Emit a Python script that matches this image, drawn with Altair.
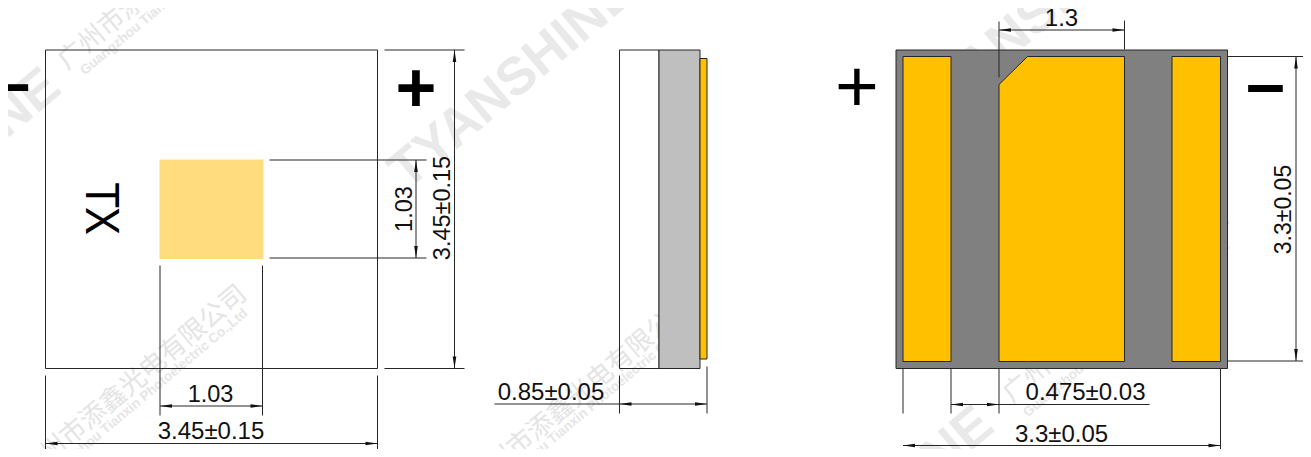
import altair as alt
import pandas as pd

# drawing geometry in picture pixels
rect_x1 = [896.5, 903.5, 1172.5, 659.5, 700.5]
rect_x2 = [1228, 951.5, 1221, 700.5, 707.5]
rect_y1 = [50.5, 57, 57, 50.5, 59]
rect_y2 = [369, 362, 362, 369, 359.5]
rect_fill = ["#808080", "#FFC000", "#FFC000", "#BFBFBF", "#FFC000"]

open_x1 = [46, 620]
open_x2 = [378, 659.5]
open_y1 = [50.5, 50.5]
open_y2 = [369, 369]

chip_x = [160]
chip_x2 = [264]
chip_y = [160]
chip_y2 = [259.5]

pad_x = [999.5, 1028, 1125]
pad_top = [85, 57, 57]
pad_bottom = [362, 362, 362]

v_x = [160.5, 263, 46, 378, 416.5, 455, 620, 707.5, 999.5, 1125, 903.5, 951.5, 999.5, 1221, 1296.5]
v_y1 = [266, 266, 376, 376, 160.5, 50.5, 376, 367, 22, 21, 369, 369, 369, 369, 57]
v_y2 = [416, 416, 453, 453, 258.5, 369, 414, 414, 78, 50, 414, 414, 414, 455, 361.5]

h_y = [160.5, 258.5, 50.5, 369, 406.5, 444, 404.5, 30.5, 405, 446, 57, 361.5]
h_x1 = [270, 270, 385, 385, 160.5, 46, 495, 999.5, 951.5, 903.5, 1228, 1228]
h_x2 = [427, 427, 465, 465, 263, 378, 707.5, 1125, 1150, 1221, 1306, 1306]

left_tip_x = [160.5, 46, 620, 999.5, 951.5, 903.5]
left_tip_y = [406.5, 444, 404.5, 30.5, 405, 446]
right_tip_x = [263, 378, 707.5, 1125, 999.5, 1221]
right_tip_y = [406.5, 444, 404.5, 30.5, 405, 446]
up_tip_x = [416.5, 455, 1296.5]
up_tip_y = [160.5, 50.5, 57]
down_tip_x = [416.5, 455, 1296.5]
down_tip_y = [258.5, 369, 361.5]

labels = ["1.03", "3.45±0.15", "1.03", "3.45±0.15", "0.85±0.05", "1.3", "0.475±0.03", "3.3±0.05", "3.3±0.05"]
label_x = [405, 443.5, 211, 211.5, 551.5, 1062, 1086, 1062, 1284]
label_y = [209.5, 208.5, 395, 432.5, 393, 19, 393, 435.5, 210]
label_angle = [270, 270, 0, 0, 0, 0, 0, 0, 270]
label_size = [23.5, 23.5, 23.5, 24, 24, 24, 24, 24, 23]

sign_text = ["+", "+", "-", "–"]
sign_x = [416.5, 857.5, 18, 1266]
sign_y = [91.5, 89, 85, 86]
sign_size = [70, 75, 88, 70]
sign_weight = ["bold", "normal", "normal", "bold"]

tx_text = ["TX"]
tx_x = [100]
tx_y = [209]

brand = ["TYANSHINE", "TYANSHINE", "TYANSHINE", "TYANSHINE"]
brand_x = [513, -62, 871, 1033]
brand_y = [82, 177, 515, 20]

cn = ["广州市添鑫光电有限公司"] * 4
cn_x = [172, 134, 581, 1117]
cn_y = [-27, 383, 394, 306]
en = ["Guangzhou Tianxin Photoelectric Co.,Ltd"] * 4
en_x = [184, 145, 592, 1127]
en_y = [-12, 397, 407, 330]

X = alt.Scale(domain=[8.5, 1303.5], nice=False, zero=False)
Y = alt.Scale(domain=[8.5, 449.5], nice=False, zero=False, reverse=True)
LINE = "#262626"
SANS = "Liberation Sans"


def qx(f):
    return alt.X(f"{f}:Q", scale=X, axis=None)


def qy(f):
    return alt.Y(f"{f}:Q", scale=Y, axis=None)


def wm(text, xs, ys, size, font, color, weight="bold"):
    kw = dict(fontSize=size, font=font, fontWeight=weight, color=color, angle=320,
              align="center", baseline="middle")
    return alt.Chart(pd.DataFrame({"t": text, "x": xs, "y": ys})).mark_text(**kw).encode(
        x=qx("x"), y=qy("y"), text="t:N")


def rects(x1, x2, y1, y2, **mk):
    d = pd.DataFrame({"x": x1, "x2": x2, "y": y1, "y2": y2})
    return alt.Chart(d).mark_rect(**mk).encode(x=qx("x"), x2="x2:Q", y=qy("y"), y2="y2:Q")


def arrows(xs, ys, path):
    d = pd.DataFrame({"x": xs, "y": ys})
    return alt.Chart(d).mark_point(shape=path, size=144, filled=True, fill="#111111",
                                   opacity=1, strokeWidth=0).encode(x=qx("x"), y=qy("y"))


sign_df = pd.DataFrame({"t": sign_text, "x": sign_x, "y": sign_y, "s": sign_size, "w": sign_weight})
sign_layers = [
    alt.Chart(sign_df[sign_df.w == w])
    .mark_text(font=SANS, fontWeight=w, color="#000000", align="center", baseline="middle")
    .encode(x=qx("x"), y=qy("y"), text="t:N", size=alt.Size("s:Q", scale=None))
    for w in ["normal", "bold"]
]

layers = [
    wm(brand, brand_x, brand_y, 53, SANS, "#E9E9E9"),
    wm(cn, cn_x, cn_y, 26, "Noto Sans CJK SC", "#E4E4E4", weight="normal"),
    wm(en, en_x, en_y, 13.5, SANS, "#E6E6E6"),
    rects(open_x1, open_x2, open_y1, open_y2, fillOpacity=0, stroke=LINE, strokeWidth=1),
    rects(chip_x, chip_x2, chip_y, chip_y2, fill="#FFDD7F", strokeWidth=0),
    alt.Chart(pd.DataFrame({"x": rect_x1, "x2": rect_x2, "y": rect_y1, "y2": rect_y2, "c": rect_fill}))
    .mark_rect(stroke=LINE, strokeWidth=1)
    .encode(x=qx("x"), x2="x2:Q", y=qy("y"), y2="y2:Q", fill=alt.Fill("c:N", scale=None)),
    alt.Chart(pd.DataFrame({"x": pad_x, "y": pad_top, "y2": pad_bottom}))
    .mark_area(orient="vertical", fill="#FFC000", stroke=LINE, strokeWidth=1, opacity=1)
    .encode(x=qx("x"), y=qy("y"), y2="y2:Q"),
    alt.Chart(pd.DataFrame({"x": v_x, "y": v_y1, "y2": v_y2}))
    .mark_rule(color=LINE, strokeWidth=1).encode(x=qx("x"), y=qy("y"), y2="y2:Q"),
    alt.Chart(pd.DataFrame({"y": h_y, "x": h_x1, "x2": h_x2}))
    .mark_rule(color=LINE, strokeWidth=1).encode(y=qy("y"), x=qx("x"), x2="x2:Q"),
    arrows(left_tip_x, left_tip_y, "M 0 0 L 2 -0.3 L 2 0.3 Z"),
    arrows(right_tip_x, right_tip_y, "M 0 0 L -2 -0.3 L -2 0.3 Z"),
    arrows(up_tip_x, up_tip_y, "M 0 0 L -0.3 2 L 0.3 2 Z"),
    arrows(down_tip_x, down_tip_y, "M 0 0 L -0.3 -2 L 0.3 -2 Z"),
    alt.Chart(pd.DataFrame({"t": labels, "x": label_x, "y": label_y, "a": label_angle, "s": label_size}))
    .mark_text(font=SANS, color="#111111", align="center", baseline="middle")
    .encode(x=qx("x"), y=qy("y"), text="t:N", angle=alt.Angle("a:Q", scale=None),
            size=alt.Size("s:Q", scale=None)),
    *sign_layers,
    alt.Chart(pd.DataFrame({"t": tx_text, "x": tx_x, "y": tx_y}))
    .mark_text(font="Noto Sans", fontSize=45, color="#000000", angle=90,
               align="center", baseline="middle")
    .encode(x=qx("x"), y=qy("y"), text="t:N"),
]

chart = (
    alt.layer(*layers)
    .properties(width=1295, height=441, padding=0, autosize=alt.AutoSizeParams(type="none"),
                background="white")
    .configure_view(stroke=None)
)
chart.save("out.html", embed_options={"renderer": "svg", "actions": False})
